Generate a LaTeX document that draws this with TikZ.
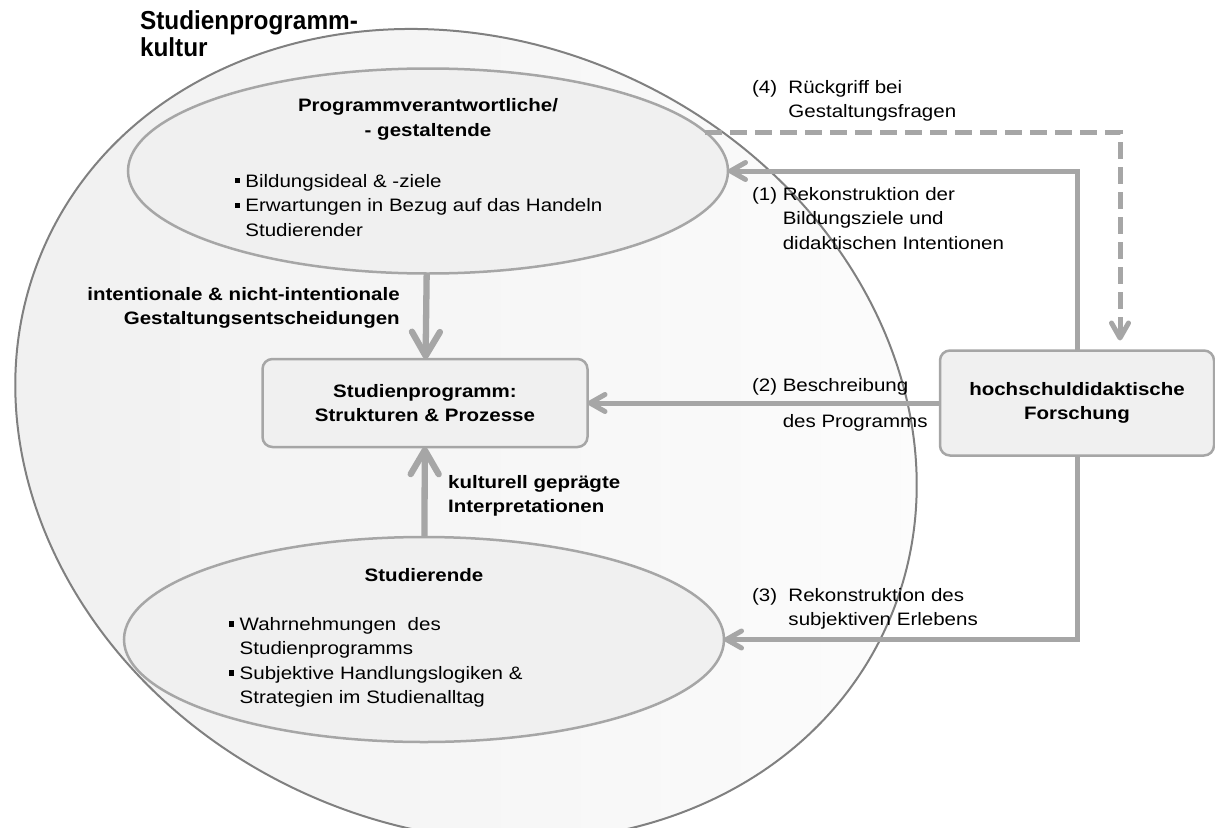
\documentclass[tikz,border=0pt]{standalone}
\usepackage{fontspec}
\setmainfont{Liberation Sans}[FakeStretch=1.14]
\usepackage{graphicx}
\usepackage{xcolor}
\usepackage{tikz}
\usetikzlibrary{shapes.geometric, arrows.meta, positioning}

\definecolor{linegray}{HTML}{A6A6A6}
\definecolor{rimgray}{HTML}{808080}
\definecolor{ovalgray}{HTML}{F0F0F0}
\newcommand{\sqbullet}{\rule[0.2em]{0.3em}{0.3em}}

\begin{document}
\begin{tikzpicture}[x=1pt, y=-1pt, node distance=2cm,
    every node/.style={inner sep=0pt, outer sep=0pt, text=black, font=\fontsize{18}{24.5}\selectfont},
    oval/.style={ellipse, draw=linegray, line width=2.5pt, fill=ovalgray, minimum width=600pt, minimum height=205pt, align=center},
    box/.style={rectangle, rounded corners=10pt, draw=linegray, line width=2.5pt, fill=ovalgray, align=center, font=\fontsize{18}{24}\selectfont\bfseries},
    boldlbl/.style={font=\fontsize{18}{24.5}\selectfont\bfseries},
    lbl/.style={anchor=base west},
    conn/.style={linegray, line width=5pt, -{Straight Barb[length=15pt, width=17pt, round]}},
    bigconn/.style={linegray, line width=6.3pt, -{Straight Barb[length=24pt, width=28pt, round]}},
    dashconn/.style={conn, dash pattern=on 17pt off 8pt}]
    \useasboundingbox (0,0) rectangle (1215,827);
    % Studienprogrammkultur
    \draw[draw=rimgray, line width=2pt, left color=black!6, right color=black!1, rotate around={-24.8:(466,435)}] (466,435) ellipse [x radius=462pt, y radius=393pt];
    \node[lbl, font=\fontsize{26}{28}\selectfont\bfseries] (kultur) at (140,29) {\scalebox{0.822}[1]{\begin{tabular}[t]{@{}l@{}}Studienprogramm-\\kultur\end{tabular}}};

    \node[box, minimum width=325pt, minimum height=88pt] (programm) at (425,403) {Studienprogramm:\\Strukturen \& Prozesse};
    \node[oval] (verantw) at (428,171) {\textbf{Programmverantwortliche/}\\\textbf{- gestaltende}\\[26.5pt]\begin{tabular}[t]{@{}l@{\hspace{0.3em}}l@{}}\sqbullet & Bildungsideal \& -ziele\\ \sqbullet & Erwartungen in Bezug auf das Handeln\\ & Studierender\end{tabular}\hspace*{19pt}};
    \node[oval, below=90pt of programm, xshift=-1pt] (studierende) {\textbf{Studierende}\\[24.5pt]\begin{tabular}[t]{@{}l@{\hspace{0.3em}}l@{}}\sqbullet & Wahrnehmungen\ \ des\\ & Studienprogramms\\ \sqbullet & Subjektive Handlungslogiken \&\\ & Strategien im Studienalltag\end{tabular}\hspace*{96.5pt}};
    \node[box, minimum width=274pt, minimum height=105pt, right=352.5pt of programm] (forschung) {hochschuldidaktische\\Forschung};

    \draw[bigconn] (verantw) -- node[boldlbl, pos=0.4, left=26.5pt] (gestaltung) {\begin{tabular}{@{}r@{}}intentionale \& nicht-intentionale\\Gestaltungsentscheidungen\end{tabular}} (programm);
    \draw[bigconn] (studierende) -- node[boldlbl, pos=0.46, right=23.5pt] (interpret) {\begin{tabular}{@{}l@{}}kulturell geprägte\\Interpretationen\end{tabular}} (programm);
    \draw[conn] (forschung.north) |- (verantw.east);
    \draw[conn] (forschung.west) -- (programm.east);
    \draw[conn] (forschung.south) |- (studierende.east);
    \draw[dashconn, shorten >=10pt] (verantw.8) -| ([xshift=43pt]forschung.north);

    \node[lbl] (rueckgriff) at (752,93) {\begin{tabular}[t]{@{}l@{\ \ }l@{}}(4) & Rückgriff bei\\ & Gestaltungsfragen\end{tabular}};
    \node[lbl] (rekonstr) at (752,200) {\begin{tabular}[t]{@{}l@{\ }l@{}}(1) & Rekonstruktion der\\ & Bildungsziele und\\ & didaktischen Intentionen\end{tabular}};
    \node[lbl] (beschr) at (752,391) {\begin{tabular}[t]{@{}l@{\ }l@{}}(2) & Beschreibung\\[11.5pt] & des Programms\end{tabular}};
    \node[lbl] (erleben) at (752,601) {\begin{tabular}[t]{@{}l@{\ \ }l@{}}(3) & Rekonstruktion des\\ & subjektiven Erlebens\end{tabular}};
\end{tikzpicture}
\end{document}
